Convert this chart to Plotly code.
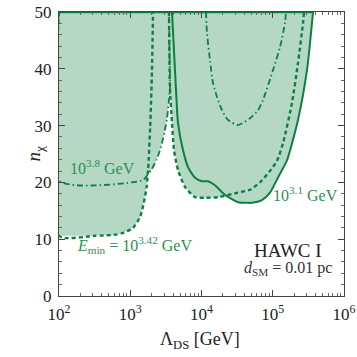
import numpy as np
import plotly.graph_objects as go

# --- data (log10 of Lambda_DS in GeV, n_chi) ---
dashed_a_logL = [2.0, 2.5, 2.8, 2.9, 3.04, 3.14, 3.19, 3.23, 3.25, 3.28, 3.305, 3.32]
dashed_a_n = [10.6, 10.6, 10.8, 11.1, 12.0, 14.0, 16.4, 19.2, 22.2, 29.8, 39.8, 50]

dashed_b_logL = [3.544, 3.558, 3.586, 3.614, 3.670, 3.768, 3.909, 4.049, 4.232, 4.512,
                 4.68, 4.82, 4.96, 5.06, 5.144, 5.27, 5.354, 5.425, 5.439]
dashed_b_n = [50, 36.3, 30.5, 25.7, 22.2, 19.2, 17.4, 17.3, 17.4, 18.2,
              18.7, 20.0, 22.0, 23.8, 26.9, 34.0, 41.0, 48.1, 50]

dashdot_a_logL = [2.0, 3.18, 3.235, 3.30, 3.37, 3.43, 3.48, 3.516, 3.544, 3.558, 3.55, 3.544]
dashdot_a_n = [20.3, 20.4, 21.2, 22.3, 24.0, 26.2, 28.8, 31.3, 34.5, 36.8, 43.3, 50]

dashdot_b_logL = [4.063, 4.077, 4.119, 4.161, 4.218, 4.288, 4.372, 4.512, 4.681, 4.793,
                  4.863, 5.004, 5.102, 5.172, 5.186]
dashdot_b_n = [50, 46.3, 41.5, 37.5, 35.0, 32.7, 31.0, 30.1, 31.3, 32.7,
               34.5, 39.8, 43.8, 48.1, 50]

solid_logL = [3.586, 3.642, 3.670, 3.740, 3.811, 3.909, 4.007, 4.091, 4.189, 4.330,
              4.512, 4.639, 4.709, 4.849, 4.961, 5.08, 5.200, 5.354, 5.481, 5.551, 5.565]
solid_n = [50, 36.3, 30.5, 25.7, 22.7, 20.8, 20.2, 20.2, 19.5, 17.8,
           16.5, 16.4, 16.4, 16.9, 18.2, 21.0, 23.9, 31.0, 39.8, 48.1, 50]

x_ticks = [1e2, 1e3, 1e4, 1e5, 1e6]
x_ticktext = ["10<sup>2</sup>", "10<sup>3</sup>", "10<sup>4</sup>", "10<sup>5</sup>", "10<sup>6</sup>"]
y_ticks = [0, 10, 20, 30, 40, 50]

FILL = "#b4d8c4"
LINE = "#0d7f3f"
TXT = "#2f8f55"
FONT = "Liberation Serif"


def L(vals):
    return [10 ** v for v in vals]


fig = go.Figure()

# filled regions (union, opaque) - polygons pushed past the frame so edges are clean
def left_poly(logL, n):
    xs = [1.9] + list(logL) + [logL[-1], 1.9]
    ys = [n[0]] + list(n) + [55, 55]
    return L(xs), ys

def u_poly(logL, n):
    xs = [logL[0]] + list(logL) + [logL[-1]]
    ys = [55] + list(n) + [55]
    return L(xs), ys

for xs, ys in [left_poly(dashed_a_logL, dashed_a_n),
               left_poly(dashdot_a_logL, dashdot_a_n),
               u_poly(dashed_b_logL, dashed_b_n),
               u_poly(dashdot_b_logL, dashdot_b_n),
               u_poly(solid_logL, solid_n)]:
    fig.add_trace(go.Scatter(x=xs, y=ys, fill="toself", fillcolor=FILL,
                             mode="lines", line=dict(width=0), hoverinfo="skip",
                             showlegend=False))

dash_pat = "4px,3px"
dashdot_pat = "6px,3px,1.5px,3px"

# boundary lines, including the edges along the frame
def add_line(xs, ys, dash, width):
    fig.add_trace(go.Scatter(x=L(xs), y=ys, mode="lines",
                             line=dict(color=LINE, width=width, dash=dash, shape="spline", smoothing=0.6),
                             hoverinfo="skip", showlegend=False))

add_line([2.0] + dashed_a_logL, [50] + dashed_a_n, dash_pat, 2.4)
add_line(dashed_b_logL, dashed_b_n, dash_pat, 2.4)
add_line([2.0] + dashdot_a_logL, [50] + dashdot_a_n, dashdot_pat, 1.8)
add_line(dashdot_b_logL, dashdot_b_n, dashdot_pat, 1.8)
add_line(solid_logL, solid_n, "solid", 2.0)
# top edge of the shaded region
fig.add_trace(go.Scatter(x=L([2.0, solid_logL[-1]]), y=[50, 50], mode="lines",
                         line=dict(color=LINE, width=2.5), hoverinfo="skip", showlegend=False))

# labels
fig.add_annotation(x=2.12, y=22.8, text="10<sup>3.8</sup> GeV", showarrow=False,
                   xanchor="left", font=dict(color=TXT, size=16, family=FONT))
fig.add_annotation(x=2.22, y=8.9, text="<i>E</i><sub>min</sub> = 10<sup>3.42</sup> GeV", showarrow=False,
                   xanchor="left", font=dict(color=TXT, size=16, family=FONT))
fig.add_annotation(x=4.98, y=18.0, text="10<sup>3.1</sup> GeV", showarrow=False,
                   xanchor="left", font=dict(color=TXT, size=16, family=FONT))
fig.add_annotation(x=5.21, y=8.0, text="HAWC I", showarrow=False,
                   font=dict(color="#222", size=19, family=FONT))
fig.add_annotation(x=5.21, y=4.9, text="<i>d</i><sub>SM</sub> = 0.01 pc", showarrow=False,
                   font=dict(color="#333", size=16, family=FONT))

# axis titles
fig.add_annotation(xref="paper", yref="paper", x=0.495, y=-0.155, yanchor="middle",
                   text="Λ<sub>DS</sub> [GeV]", showarrow=False,
                   font=dict(size=18, family=FONT, color="#222"))
fig.add_annotation(xref="paper", yref="paper", x=-0.135, y=0.5, textangle=-90,
                   text="<i>n</i><sub>χ</sub>", showarrow=False,
                   font=dict(size=19, family=FONT, color="#222"))

fig.update_xaxes(type="log", range=[2, 6], tickvals=x_ticks, ticktext=x_ticktext,
                 ticks="inside", ticklen=6, tickcolor="#444", showline=True, linecolor="#444",
                 linewidth=1, mirror="allticks", showgrid=False, zeroline=False, automargin=False,
                 minor=dict(ticks="inside", ticklen=3, tickcolor="#666", dtick="D1", showgrid=False),
                 tickfont=dict(size=17, family=FONT, color="#222"), ticklabelstandoff=3)
fig.update_yaxes(range=[0, 50], tickvals=y_ticks, ticks="inside", ticklen=6, tickcolor="#444",
                 showline=True, linecolor="#444", linewidth=1, mirror="allticks",
                 showgrid=False, zeroline=False, automargin=False,
                 minor=dict(ticks="inside", ticklen=3, tickcolor="#666", dtick=2, showgrid=False),
                 tickfont=dict(size=17, family=FONT, color="#222"), ticklabelstandoff=3)

fig.update_layout(width=357, height=357, margin=dict(l=59, r=13, t=12, b=61),
                  plot_bgcolor="white", paper_bgcolor="white")

config = {'showLink': False, 'displayModeBar': False}
# the page body has a default 8px margin; drop it so the figure sits at the corner
fig.write_html("out.html", config=config, post_script="document.body.style.margin='0';")
